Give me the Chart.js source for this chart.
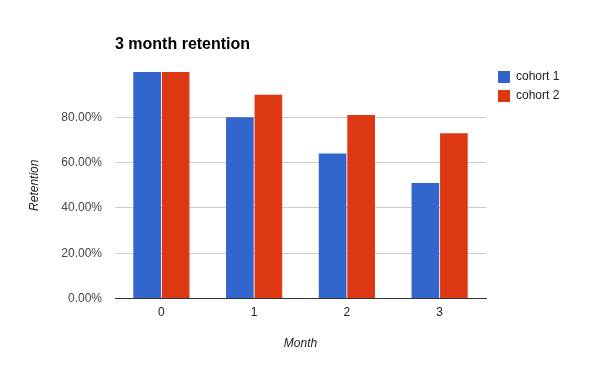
<!DOCTYPE html>
<html>
<head>
<meta charset="utf-8">
<script src="https://cdn.jsdelivr.net/npm/chart.js@4/dist/chart.umd.min.js"></script>
<style>
  html, body { margin: 0; padding: 0; background: #ffffff; }
  #wrap { width: 600px; height: 371px; }
</style>
</head>
<body>
<div id="wrap"><canvas id="c" width="600" height="371"></canvas></div>
<script>
const chartTitle = '3 month retention';
const months = ['0', '1', '2', '3'];
const seriesNames = ['cohort 1', 'cohort 2'];
const cohort1 = [100, 80, 64, 51];
const cohort2 = [100, 90, 81, 73];
const yMin = 0, yMax = 100, yStep = 20;
const xTitle = 'Month';
const yTitle = 'Retention';
const colors = ['#3366CC', '#DC3912'];

const FONT = 'Arial, "Liberation Sans", sans-serif';

new Chart(document.getElementById('c'), {
  type: 'bar',
  data: {
    labels: months,
    datasets: [
      { label: seriesNames[0], data: cohort1, backgroundColor: colors[0], borderWidth: 0 },
      { label: seriesNames[1], data: cohort2, backgroundColor: colors[1], borderWidth: 0 }
    ]
  },
  options: {
    responsive: false,
    devicePixelRatio: 1,
    animation: false,
    categoryPercentage: 0.615,
    barPercentage: 0.97,
    layout: { padding: { top: 64, right: 31, bottom: 0, left: 0 } },
    plugins: {
      tooltip: { enabled: false },
      title: {
        display: true,
        text: chartTitle,
        align: 'start',
        fullSize: false,
        color: '#000000',
        font: { family: FONT, size: 16, weight: 'bold' },
        padding: { top: -29, bottom: 17.8 }
      },
      legend: {
        display: true,
        position: 'right',
        align: 'start',
        fullSize: true,
        maxWidth: 78,
        labels: {
          boxWidth: 12,
          boxHeight: 12,
          padding: 7,
          color: '#222222',
          font: { family: FONT, size: 12 }
        }
      }
    },
    scales: {
      x: {
        grid: { display: false, drawTicks: false },
        border: { display: true, color: '#333333', width: 1 },
        ticks: { color: '#222222', font: { family: FONT, size: 12 }, padding: 6.5 },
        title: {
          display: true, text: xTitle, color: '#222222',
          font: { family: FONT, size: 12, style: 'italic' },
          padding: { top: 0, bottom: 20 }
        },
        afterFit: s => { s.height = 72.5; }
      },
      y: {
        min: yMin, max: yMax,
        grid: {
          drawTicks: false,
          color: c => (c.tick && c.tick.value === 0) ? '#333333' : '#cccccc'
        },
        border: { display: false },
        ticks: {
          stepSize: yStep,
          color: '#444444',
          font: { family: FONT, size: 12 },
          padding: 13,
          callback: v => (v === yMax ? null : v.toFixed(2) + '%')
        },
        title: {
          display: true, text: yTitle, color: '#222222',
          font: { family: FONT, size: 12, style: 'italic' },
          padding: { top: 27, bottom: 0 }
        },
        afterFit: s => { s.width = 115; }
      },
      spacer: {
        type: 'linear',
        position: 'right',
        display: true,
        grid: { display: false, drawTicks: false },
        border: { display: false },
        ticks: { display: false },
        afterFit: s => { s.width = 5; }
      }
    }
  }
});
</script>
</body>
</html>
